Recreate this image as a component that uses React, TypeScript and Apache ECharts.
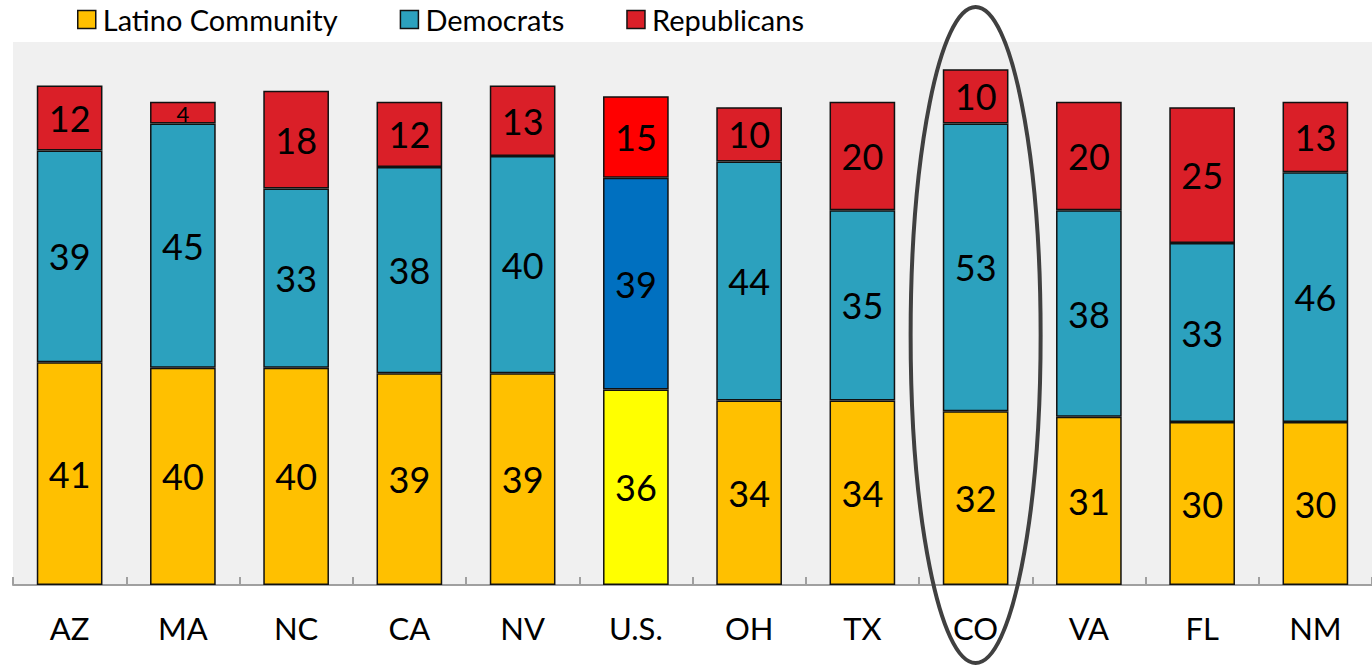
import React, { useEffect, useRef } from "react";
import * as echarts from "echarts";

const categories = ["AZ", "MA", "NC", "CA", "NV", "U.S.", "OH", "TX", "CO", "VA", "FL", "NM"];
const latino = [41, 40, 40, 39, 39, 36, 34, 34, 32, 31, 30, 30];
const democrats = [39, 45, 33, 38, 40, 39, 44, 35, 53, 38, 33, 46];
const republicans = [12, 4, 18, 12, 13, 15, 10, 20, 10, 20, 25, 13];
const seriesNames = ["Latino Community", "Democrats", "Republicans"];
const baseColors = ["#FFC000", "#2CA1BE", "#DA1F28"];
const usColors = ["#FFFF00", "#0070C0", "#FF0000"];
const highlighted = "CO";

const FONT = "Lato, 'Open Sans', sans-serif";

export default function App() {
  const ref = useRef<HTMLDivElement>(null);
  useEffect(() => {
    if (!ref.current) return;
    const chart = echarts.init(ref.current, undefined, { renderer: "svg" });
    const all = [latino, democrats, republicans];
    const series = all.map((vals, si) => ({
      name: seriesNames[si],
      type: "bar",
      stack: "total",
      barWidth: "58%",
      itemStyle: { color: baseColors[si], borderColor: "#111", borderWidth: 1.5 },
      label: {
        show: true,
        position: "inside",
        color: "#000",
        fontFamily: FONT,
        fontSize: 36,
      },
      data: vals.map((v, i) => {
        const item: any = { value: v };
        if (categories[i] === "U.S.") item.itemStyle = { color: usColors[si] };
        if (v < 6) item.label = { fontSize: 22, offset: [0, 1] };
        return item;
      }),
    }));
    chart.setOption({
      animation: false,
      backgroundColor: "#fff",
      legend: {
        left: 72,
        top: 0,
        icon: "rect",
        itemWidth: 18,
        itemHeight: 18,
        itemGap: 62,
        itemStyle: { borderColor: "#111", borderWidth: 1.5 },
        textStyle: { fontFamily: FONT, fontSize: 29, color: "#000", padding: [0, 0, 0, 2] },
        data: seriesNames,
      },
      grid: { left: 13, right: 0, top: 42, bottom: 81, backgroundColor: "#F0F0F0", show: true, borderWidth: 0 },
      xAxis: {
        type: "category",
        data: categories,
        axisLine: { show: true, lineStyle: { color: "#A0A0A0", width: 2 } },
        axisTick: { show: true, inside: true, length: 8, lineStyle: { color: "#A0A0A0", width: 2 } },
        axisLabel: { color: "#000", fontFamily: FONT, fontSize: 31, margin: 27 },
      },
      yAxis: { type: "value", min: 0, max: 100, show: false, splitLine: { show: false } },
      series,
    });
    const cx = chart.convertToPixel({ xAxisIndex: 0 }, highlighted) as number;
    chart.setOption({
      graphic: [
        {
          type: "ellipse",
          shape: { cx, cy: 335, rx: 65, ry: 328 },
          style: { fill: "none", stroke: "#404040", lineWidth: 4 },
          z: 100,
        },
      ],
    });
    return () => chart.dispose();
  }, []);
  return <div ref={ref} style={{ width: 1372, height: 666, position: "absolute", left: 0, top: 0 }} />;
}
